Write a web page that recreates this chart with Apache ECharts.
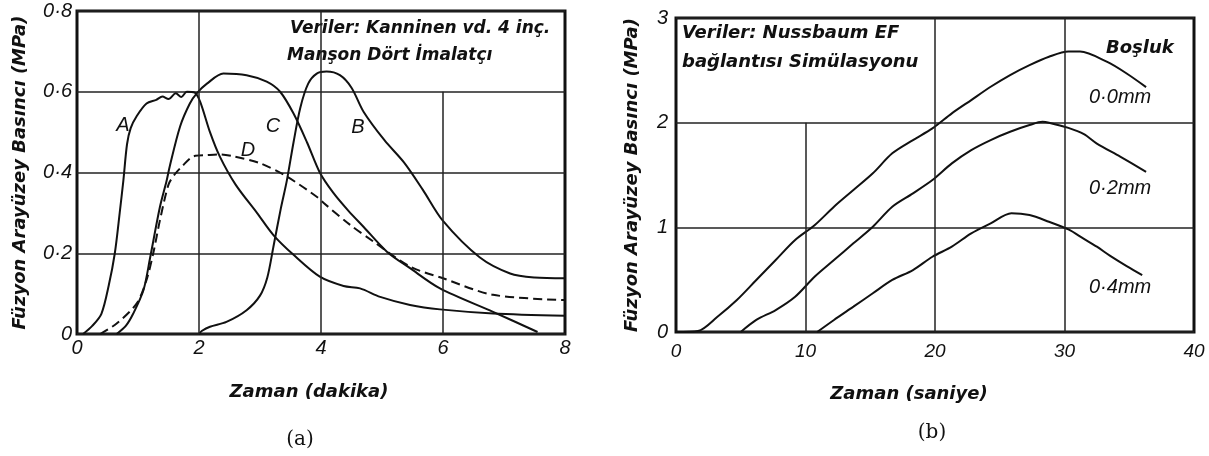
<!DOCTYPE html>
<html>
<head>
<meta charset="utf-8">
<script src="https://cdn.jsdelivr.net/npm/echarts@6/dist/echarts.min.js"></script>
<style>
  html, body { margin: 0; padding: 0; background: #fff; }
  #chart { width: 1209px; height: 456px; }
</style>
</head>
<body>
<div id="chart"></div>
<script>
// panel (a): time in minutes, pressure in MPa
const curveA = [[0.1, 0], [0.25, 0.02], [0.4, 0.05], [0.52, 0.12], [0.62, 0.2], [0.7, 0.3], [0.76, 0.38], [0.82, 0.47], [0.88, 0.51], [0.98, 0.54], [1.14, 0.571], [1.3, 0.58], [1.4, 0.588], [1.5, 0.582], [1.62, 0.596], [1.71, 0.587], [1.8, 0.6], [1.93, 0.598], [2.02, 0.575], [2.18, 0.5], [2.34, 0.44], [2.6, 0.37], [2.95, 0.3], [3.22, 0.245], [3.55, 0.196], [3.98, 0.142], [4.37, 0.119], [4.64, 0.113], [4.97, 0.092], [5.46, 0.072], [5.95, 0.061], [6.82, 0.051], [8, 0.045]];
const curveB = [[2.0, 0], [2.05, 0.008], [2.18, 0.018], [2.45, 0.03], [2.78, 0.059], [3.0, 0.095], [3.12, 0.14], [3.22, 0.216], [3.34, 0.31], [3.44, 0.38], [3.55, 0.475], [3.66, 0.56], [3.79, 0.62], [3.93, 0.645], [4.09, 0.65], [4.31, 0.641], [4.5, 0.61], [4.7, 0.55], [5.04, 0.48], [5.36, 0.425], [5.67, 0.357], [6.0, 0.28], [6.6, 0.19], [7.1, 0.15], [7.5, 0.14], [8, 0.138]];
const curveC = [[0.65, 0], [0.8, 0.02], [0.92, 0.05], [1.09, 0.109], [1.2, 0.19], [1.36, 0.315], [1.47, 0.38], [1.52, 0.415], [1.69, 0.514], [1.85, 0.571], [1.97, 0.597], [2.13, 0.62], [2.4, 0.645], [2.78, 0.641], [3.11, 0.625], [3.33, 0.6], [3.55, 0.546], [3.77, 0.475], [3.98, 0.4], [4.2, 0.35], [4.45, 0.305], [4.7, 0.265], [5.08, 0.204], [5.46, 0.163], [5.95, 0.113], [6.82, 0.055], [7.55, 0.005]];
const curveD = [[0.38, 0], [0.65, 0.026], [0.98, 0.076], [1.14, 0.134], [1.25, 0.2], [1.36, 0.282], [1.5, 0.37], [1.6, 0.395], [1.72, 0.415], [1.91, 0.44], [2.13, 0.443], [2.34, 0.445], [2.56, 0.44], [3.0, 0.423], [3.44, 0.39], [3.93, 0.34], [4.04, 0.325], [4.48, 0.27], [4.86, 0.229], [5.46, 0.167], [6.0, 0.138], [6.82, 0.097], [8, 0.084]];

// panel (b): time in seconds, pressure in MPa, per gap size
const gap00 = [[0, 0], [1.7, 0.01], [3.2, 0.146], [4.7, 0.306], [6.2, 0.497], [7.7, 0.688], [9.2, 0.879], [10.7, 1.02], [12.2, 1.197], [13.7, 1.356], [15.2, 1.516], [16.7, 1.707], [18.3, 1.834], [19.8, 1.945], [21.3, 2.089], [22.8, 2.216], [24.3, 2.343], [25.8, 2.455], [27.3, 2.55], [28.8, 2.63], [30.3, 2.68], [31.2, 2.68], [33.3, 2.58], [34.8, 2.47], [36.3, 2.34]];
const gap02 = [[5.0, 0], [6.2, 0.115], [7.7, 0.21], [9.2, 0.337], [10.7, 0.528], [12.2, 0.688], [13.7, 0.847], [15.2, 1.006], [16.7, 1.197], [18.3, 1.325], [19.8, 1.452], [21.3, 1.611], [22.8, 1.738], [24.3, 1.834], [25.8, 1.913], [27.3, 1.977], [28.3, 2.008], [28.8, 2.0], [30.3, 1.95], [31.5, 1.89], [32.5, 1.8], [34.3, 1.675], [36.3, 1.53]];
const gap04 = [[10.9, 0], [12.2, 0.115], [13.7, 0.242], [15.2, 0.37], [16.7, 0.497], [18.3, 0.592], [19.8, 0.719], [21.3, 0.815], [22.8, 0.943], [24.3, 1.038], [25.9, 1.135], [27.3, 1.117], [28.8, 1.053], [30.3, 0.98], [31.5, 0.89], [32.5, 0.815], [33.5, 0.73], [34.8, 0.63], [36.0, 0.544]];

// vertical grid segments [x, yFrom, yTo]
const gridA = [[2, 0, 0.8], [4, 0, 0.8], [6, 0, 0.6]];
const gridB = [[10, 0, 2], [20, 0, 3], [30, 0, 3]];

const curveLabelsA = ['A', 'B', 'C', 'D'];
const gapLabels = ['0·0mm', '0·2mm', '0·4mm'];

const INK = '#111';
const tickFont = { color: INK, fontStyle: 'italic', fontFamily: 'Liberation Sans', fontSize: 20 };
const titleFont = { color: INK, fontStyle: 'italic', fontWeight: 'bold', fontFamily: 'DejaVu Sans', fontSize: 18 };

function line(name, data, xi, dashed) {
  return {
    name, type: 'line', data, xAxisIndex: xi, yAxisIndex: xi,
    showSymbol: false, smooth: 0.3, silent: true,
    lineStyle: { color: INK, width: 2, type: dashed ? [9, 5] : 'solid' },
  };
}

function gridLines(xi, segs) {
  return {
    type: 'line', data: [], xAxisIndex: xi, yAxisIndex: xi, silent: true,
    markLine: {
      silent: true, symbol: ['none', 'none'], animation: false,
      label: { show: false },
      lineStyle: { color: '#222', width: 1.5, type: 'solid' },
      data: segs.map((s) => [{ coord: [s[0], s[1]] }, { coord: [s[0], s[2]] }]),
    },
  };
}

function text(x, y, str, font, align) {
  return {
    type: 'text', x, y, silent: true,
    style: { text: str, font, fill: INK, align: align || 'left', verticalAlign: 'middle' },
  };
}

const bi17 = 'italic bold 17px "DejaVu Sans"';
const bi18 = 'italic bold 18px "DejaVu Sans"';
const it20 = 'italic 20px "Liberation Sans"';

const option = {
  animation: false,
  backgroundColor: '#fff',
  grid: [
    { left: 77, top: 11, width: 488, height: 323, show: true, borderColor: INK, borderWidth: 3, backgroundColor: 'transparent' },
    { left: 676, top: 18, width: 518, height: 314, show: true, borderColor: INK, borderWidth: 3, backgroundColor: 'transparent' },
  ],
  xAxis: [
    {
      gridIndex: 0, type: 'value', min: 0, max: 8, interval: 2,
      name: 'Zaman (dakika)', nameLocation: 'middle', nameGap: 49,
      nameTextStyle: { ...titleFont, padding: [0, 24, 0, 0] },
      axisLine: { show: false }, axisTick: { show: false }, splitLine: { show: false },
      axisLabel: { ...tickFont, margin: 4, showMinLabel: true, showMaxLabel: true },
    },
    {
      gridIndex: 1, type: 'value', min: 0, max: 40, interval: 10,
      name: 'Zaman (saniye)', nameLocation: 'middle', nameGap: 53,
      nameTextStyle: { ...titleFont, padding: [0, 52, 0, 0] },
      axisLine: { show: false }, axisTick: { show: false }, splitLine: { show: false },
      axisLabel: { ...tickFont, fontSize: 19, margin: 10, showMinLabel: true, showMaxLabel: true },
    },
  ],
  yAxis: [
    {
      gridIndex: 0, type: 'value', min: 0, max: 0.8, interval: 0.2,
      name: 'Füzyon Arayüzey Basıncı (MPa)', nameLocation: 'middle', nameGap: 48, nameRotate: 90,
      nameTextStyle: titleFont,
      axisLine: { show: false }, axisTick: { show: false },
      splitLine: { show: true, lineStyle: { color: '#222', width: 1.5 } },
      axisLabel: {
        ...tickFont, margin: 5, showMinLabel: true, showMaxLabel: true,
        formatter: (v) => (v === 0 ? '0' : '0·' + Math.round(v * 10)),
      },
    },
    {
      gridIndex: 1, type: 'value', min: 0, max: 3, interval: 1,
      name: 'Füzyon Arayüzey Basıncı (MPa)', nameLocation: 'middle', nameGap: 35, nameRotate: 90,
      nameTextStyle: titleFont,
      axisLine: { show: false }, axisTick: { show: false },
      splitLine: { show: true, lineStyle: { color: '#222', width: 1.5 } },
      axisLabel: { ...tickFont, margin: 8, showMinLabel: true, showMaxLabel: true },
    },
  ],
  graphic: [
    text(290, 29, 'Veriler: Kanninen vd. 4 inç.', bi17),
    text(287, 56, 'Manşon Dört İmalatçı', bi17),
    text(123, 125, curveLabelsA[0], it20, 'center'),
    text(358, 127, curveLabelsA[1], it20, 'center'),
    text(273, 126, curveLabelsA[2], it20, 'center'),
    text(248, 150, curveLabelsA[3], it20, 'center'),
    text(682, 33, 'Veriler: Nussbaum EF', bi18),
    text(682, 62, 'bağlantısı Simülasyonu', bi18),
    text(1106, 48, 'Boşluk', bi18),
    text(1089, 97, gapLabels[0], it20),
    text(1089, 188, gapLabels[1], it20),
    text(1089, 287, gapLabels[2], it20),
    text(300, 440, '(a)', '20px "DejaVu Serif"', 'center'),
    text(932, 433, '(b)', '20px "DejaVu Serif"', 'center'),
  ],
  series: [
    gridLines(0, gridA),
    gridLines(1, gridB),
    line('A', curveA, 0),
    line('B', curveB, 0),
    line('C', curveC, 0),
    line('D', curveD, 0, true),
    line('0.0mm', gap00, 1),
    line('0.2mm', gap02, 1),
    line('0.4mm', gap04, 1),
  ],
};

const chart = echarts.init(document.getElementById('chart'), null, { renderer: 'canvas' });
chart.setOption(option);
window.addEventListener('resize', () => chart.resize());
</script>
</body>
</html>
